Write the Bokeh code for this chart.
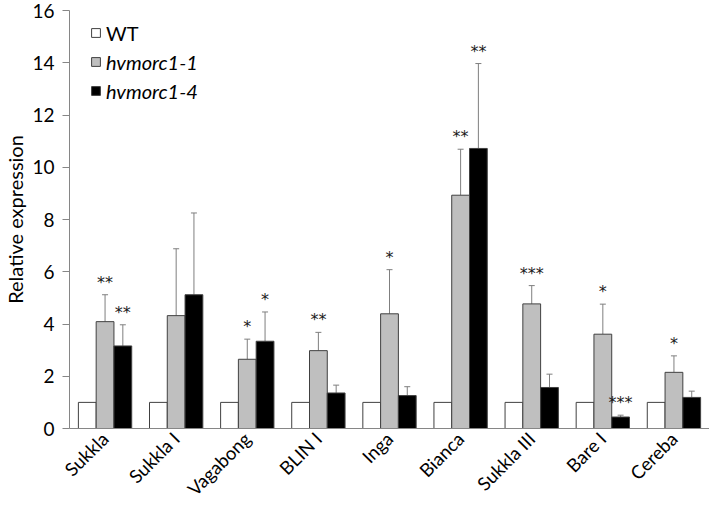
from math import pi
from bokeh.plotting import figure
from bokeh.models import (ColumnDataSource, FactorRange, Range1d, Whisker, TeeHead,
                          Legend, LegendItem, FixedTicker)
from bokeh.transform import dodge
from bokeh.core.properties import value
from bokeh.embed import file_html
from bokeh.resources import INLINE

cultivars = ["Sukkla", "Sukkla I", "Vagabong", "BLIN I", "Inga",
             "Bianca", "Sukkla III", "Bare I", "Cereba"]
series_names = ["WT", "hvmorc1-1", "hvmorc1-4"]
wt_mean = [1, 1, 1, 1, 1, 1, 1, 1, 1]
m1_mean = [4.09, 4.32, 2.65, 2.98, 4.39, 8.93, 4.77, 3.61, 2.15]
m1_err = [1.03, 2.56, 0.77, 0.70, 1.69, 1.76, 0.70, 1.15, 0.63]
m4_mean = [3.16, 5.12, 3.34, 1.36, 1.26, 10.72, 1.57, 0.44, 1.19]
m4_err = [0.81, 3.13, 1.12, 0.30, 0.34, 3.25, 0.51, 0.07, 0.24]
m1_sig = ["**", "", "*", "**", "*", "**", "***", "*", "*"]
m4_sig = ["**", "", "*", "", "", "**", "", "***", ""]
y_ticks = [0, 2, 4, 6, 8, 10, 12, 14, 16]

FONT = "Lato"
AXIS_GRAY = "#868686"
BAR_LINE = "#404040"

src = ColumnDataSource(dict(
    cat=cultivars, wt=wt_mean,
    m1=m1_mean, m1_up=[m + e for m, e in zip(m1_mean, m1_err)],
    m4=m4_mean, m4_up=[m + e for m, e in zip(m4_mean, m4_err)],
    m1_sig=m1_sig, m4_sig=m4_sig,
))

p = figure(width=709, height=510, x_range=FactorRange(factors=cultivars, range_padding=0),
           y_range=Range1d(0, 16), output_backend="svg", toolbar_location=None,
           min_border_left=64, min_border_right=0, min_border_top=10, min_border_bottom=82)
p.outline_line_color = None
p.xgrid.visible = False
p.ygrid.visible = False

r_wt = p.vbar(x=dodge("cat", -0.25, range=p.x_range), top="wt", bottom=0, width=0.25,
              source=src, fill_color="white", line_color=BAR_LINE, line_width=1)
r_m1 = p.vbar(x=dodge("cat", 0.0, range=p.x_range), top="m1", bottom=0, width=0.25,
              source=src, fill_color="#bfbfbf", line_color=BAR_LINE, line_width=1)
r_m4 = p.vbar(x=dodge("cat", 0.25, range=p.x_range), top="m4", bottom=0, width=0.25,
              source=src, fill_color="black", line_color=BAR_LINE, line_width=1)

for off, lo, up in [(0.0, "m1", "m1_up"), (0.25, "m4", "m4_up")]:
    w = Whisker(base=dodge("cat", off, range=p.x_range), lower=lo, upper=up, source=src,
                line_color="#7f7f7f", line_width=1,
                upper_head=TeeHead(size=6, line_color="#7f7f7f", line_width=1),
                lower_head=None)
    p.add_layout(w)

for off, up, sig in [(0.0, "m1_up", "m1_sig"), (0.25, "m4_up", "m4_sig")]:
    p.text(x=dodge("cat", off, range=p.x_range), y=up, text=sig, source=src,
           text_align="center", text_baseline="bottom", y_offset=-3,
           text_font=value("DejaVu Sans"), text_font_size="16px", text_color="#1a1a1a")

# axes
yax = p.yaxis[0]
yax.ticker = FixedTicker(ticks=y_ticks)
yax.axis_label = "Relative expression"
yax.axis_label_text_font = FONT
yax.axis_label_text_font_size = "20px"
yax.axis_label_text_font_style = "normal"
yax.axis_label_text_color = "black"
yax.axis_label_standoff = 2
yax.major_label_text_font = FONT
yax.major_label_text_font_size = "19px"
yax.major_label_text_color = "black"
yax.major_label_standoff = 8
yax.major_tick_out = 7
yax.major_tick_in = 0
yax.minor_tick_out = 0
yax.minor_tick_in = 0
yax.axis_line_color = AXIS_GRAY
yax.major_tick_line_color = AXIS_GRAY

xax = p.xaxis[0]
xax.major_label_orientation = pi / 4
xax.major_label_text_font = FONT
xax.major_label_text_font_size = "18.5px"
xax.major_label_text_line_height = 0.8
xax.major_label_text_color = "black"
xax.major_label_standoff = 7
xax.major_tick_out = 0
xax.major_tick_in = 0
xax.axis_line_color = AXIS_GRAY

def make_legend(items, loc, style):
    leg = Legend(items=items, location=loc, border_line_color=None,
                 background_fill_alpha=0, padding=0, margin=0, spacing=0,
                 glyph_width=11, glyph_height=11, label_standoff=5, label_height=29,
                 label_text_font=FONT, label_text_font_size="20px",
                 label_text_font_style=style, label_text_color="black")
    return leg

leg1 = make_legend([LegendItem(label=series_names[0], renderers=[r_wt])], (21, 381), "normal")
leg2 = make_legend([LegendItem(label=series_names[1], renderers=[r_m1]),
                    LegendItem(label=series_names[2], renderers=[r_m4])], (21, 323), "italic")
p.add_layout(leg1)
p.add_layout(leg2)

open("out.html", "w").write(file_html(p, INLINE))
